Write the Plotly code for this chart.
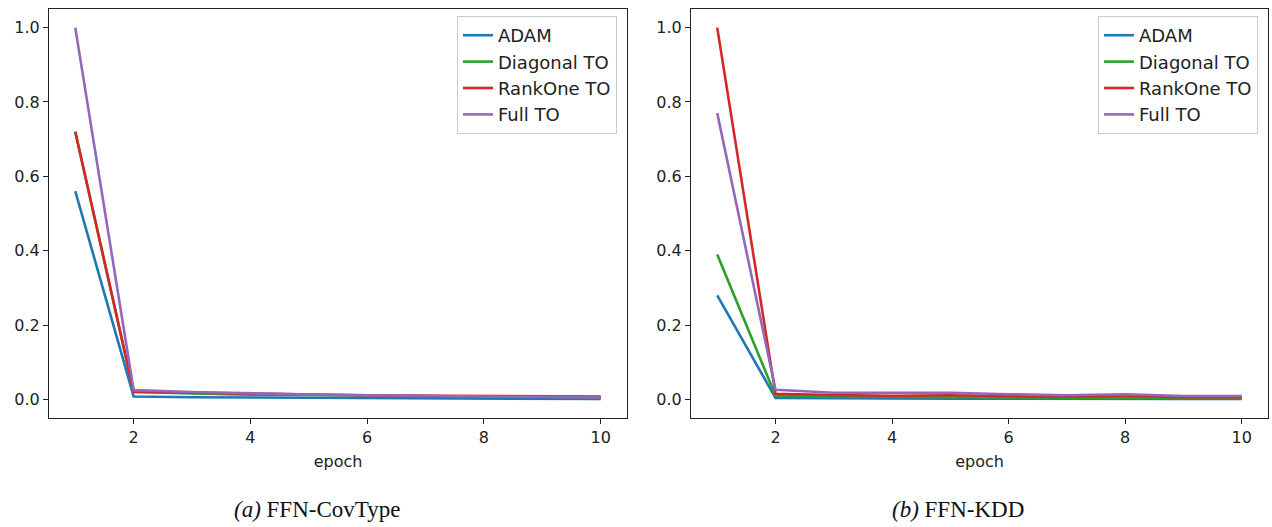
import plotly.graph_objects as go

epochs = [1, 2, 3, 4, 5, 6, 7, 8, 9, 10]
series_names = ["ADAM", "Diagonal TO", "RankOne TO", "Full TO"]
series_colors = ["#1f77b4", "#2ca02c", "#d62728", "#9467bd"]

# FFN-CovType
covtype_adam = [0.56, 0.008, 0.006, 0.005, 0.004, 0.004, 0.003, 0.002, 0.002, 0.001]
covtype_diag = [0.72, 0.020, 0.016, 0.013, 0.012, 0.010, 0.009, 0.008, 0.007, 0.006]
covtype_rank = [0.72, 0.021, 0.018, 0.015, 0.013, 0.011, 0.010, 0.009, 0.008, 0.008]
covtype_full = [1.00, 0.025, 0.020, 0.016, 0.013, 0.011, 0.009, 0.008, 0.006, 0.005]

# FFN-KDD
kdd_adam = [0.28, 0.004, 0.003, 0.002, 0.002, 0.002, 0.001, 0.001, 0.001, 0.001]
kdd_diag = [0.39, 0.010, 0.008, 0.006, 0.006, 0.005, 0.004, 0.005, 0.003, 0.003]
kdd_rank = [1.00, 0.015, 0.012, 0.010, 0.011, 0.009, 0.007, 0.010, 0.006, 0.006]
kdd_full = [0.77, 0.026, 0.018, 0.017, 0.018, 0.014, 0.011, 0.014, 0.009, 0.009]

x_ticks = [2, 4, 6, 8, 10]
y_ticks = [0.0, 0.2, 0.4, 0.6, 0.8, 1.0]
captions = ["<i>(a)</i> FFN-CovType", "<i>(b)</i> FFN-KDD"]

panels = [
    ([covtype_adam, covtype_diag, covtype_rank, covtype_full], "x", "y", "legend"),
    ([kdd_adam, kdd_diag, kdd_rank, kdd_full], "x2", "y2", "legend2"),
]

fig = go.Figure()
for values, xa, ya, leg in panels:
    for name, color, ys in zip(series_names, series_colors, values):
        fig.add_trace(go.Scatter(
            x=epochs, y=ys, mode="lines", name=name,
            line=dict(color=color, width=2.6),
            xaxis=xa, yaxis=ya, legend=leg,
        ))

tick_font = dict(family="DejaVu Sans", size=16, color="#222")
axis_common = dict(
    showline=True, linecolor="#222", linewidth=1, mirror=True,
    ticks="outside", ticklen=5, tickwidth=1, tickcolor="#222",
    showgrid=False, zeroline=False, tickfont=tick_font,
)

H = 527.0
W = 1272.0
ydom = [1 - 418 / H, 1 - 9 / H]

legend_style = dict(
    xanchor="right", yanchor="top",
    bgcolor="rgba(255,255,255,0.8)", bordercolor="#ccc", borderwidth=1,
    font=dict(family="DejaVu Sans", size=18, color="#222"),
    tracegroupgap=0,
)

fig.update_layout(
    width=1272, height=527,
    margin=dict(l=0, r=0, t=0, b=0),
    paper_bgcolor="white", plot_bgcolor="white",
    showlegend=True,
    xaxis=dict(domain=[49 / W, 627 / W], range=[0.55, 10.45], tickvals=x_ticks,
               title=dict(text="epoch", font=tick_font, standoff=9), anchor="y", **axis_common),
    yaxis=dict(domain=ydom, range=[-0.05, 1.05], tickvals=y_ticks, tickformat=".1f",
               anchor="x", **axis_common),
    xaxis2=dict(domain=[691 / W, 1268 / W], range=[0.55, 10.45], tickvals=x_ticks,
                title=dict(text="epoch", font=tick_font, standoff=9), anchor="y2", **axis_common),
    yaxis2=dict(domain=ydom, range=[-0.05, 1.05], tickvals=y_ticks, tickformat=".1f",
                anchor="x2", **axis_common),
    legend=dict(x=617 / W, y=1 - 16 / H, **legend_style),
    legend2=dict(x=1258 / W, y=1 - 16 / H, **legend_style),
    annotations=[
        dict(text=captions[0], x=317 / W, y=1 - 509 / H, xref="paper", yref="paper",
             xanchor="center", yanchor="middle", showarrow=False,
             font=dict(family="Liberation Serif", size=23, color="#111")),
        dict(text=captions[1], x=958 / W, y=1 - 509 / H, xref="paper", yref="paper",
             xanchor="center", yanchor="middle", showarrow=False,
             font=dict(family="Liberation Serif", size=23, color="#111")),
    ],
)

fig.write_html("out.html")
